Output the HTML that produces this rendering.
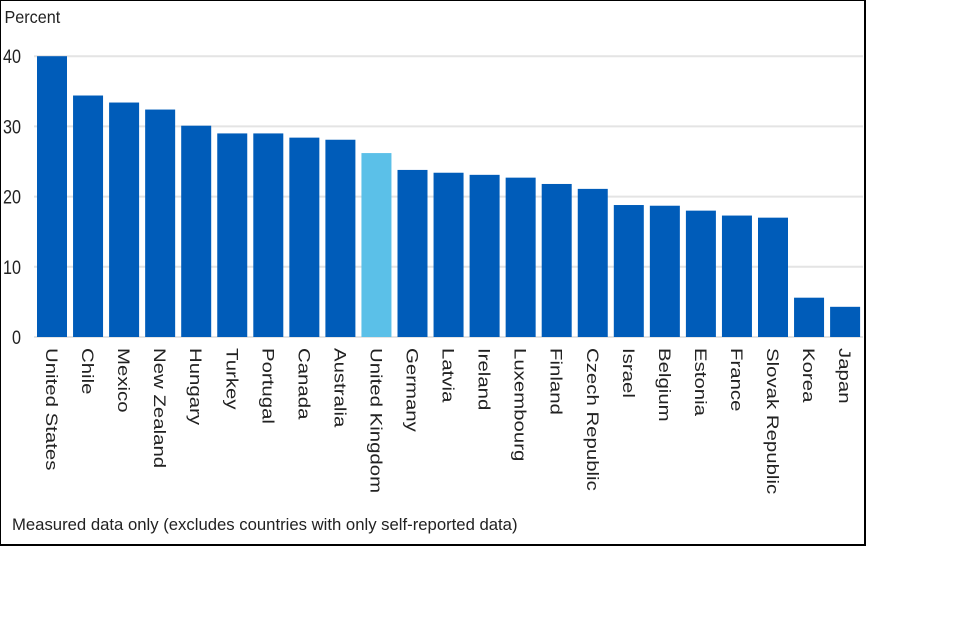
<!DOCTYPE html>
<html><head><meta charset="utf-8"><style>
body{margin:0;width:960px;height:640px;background:#fff;font-family:"Liberation Sans",Arial,sans-serif;overflow:hidden}
#frame{position:absolute;left:0;top:0;width:863px;height:543px;border:1px solid #000;border-width:1px 2px 2px 1px}
</style></head><body>
<div id="frame"></div>
<svg id="chart" width="960" height="640" style="position:absolute;left:0;top:0">
<text x="5" y="23" font-size="18" fill="#222" transform="scale(0.9 1)">Percent</text>
<text x="12" y="530" font-size="16.7" fill="#222">Measured data only (excludes countries with only self-reported data)</text>
<g id="grid"></g><g id="bars"></g><g id="labels"></g>
</svg>
<script>
const categories=["United States","Chile","Mexico","New Zealand","Hungary","Turkey","Portugal","Canada","Australia","United Kingdom","Germany","Latvia","Ireland","Luxembourg","Finland","Czech Republic","Israel","Belgium","Estonia","France","Slovak Republic","Korea","Japan"];
const values=[40.0,34.4,33.4,32.4,30.1,29.0,29.0,28.4,28.1,26.2,23.8,23.4,23.1,22.7,21.8,21.1,18.8,18.7,18.0,17.3,17.0,5.6,4.3];
const highlight=["United Kingdom"];
const yTicks=[0,10,20,30,40];
const NS="http://www.w3.org/2000/svg";
const y0=337,pxPer=7.02,x0=37,pitch=36.05,bw=30;
const y=v=>y0-v*pxPer;
const x=i=>x0+i*pitch;
const grid=document.getElementById('grid'),bars=document.getElementById('bars'),labels=document.getElementById('labels');
yTicks.forEach(t=>{
  const l=document.createElementNS(NS,'line');
  l.setAttribute('x1',34);l.setAttribute('x2',863);l.setAttribute('y1',y(t));l.setAttribute('y2',y(t));
  l.setAttribute('stroke','#e4e4e4');l.setAttribute('stroke-width',2);
  
  
  grid.appendChild(l);
  const tx=document.createElementNS(NS,'text');
  tx.setAttribute('x',21/0.85);tx.setAttribute('y',y(t)+7);tx.setAttribute('font-size',19);tx.setAttribute('fill','#222');
  tx.setAttribute('text-anchor','end');tx.setAttribute('transform','scale(0.85 1)');
  tx.textContent=t;
  
  
  grid.appendChild(tx);
});
categories.forEach((c,i)=>{
  const r=document.createElementNS(NS,'rect');
  r.setAttribute('x',x(i));r.setAttribute('y',y(values[i]));r.setAttribute('width',bw);r.setAttribute('height',y0-y(values[i]));
  r.setAttribute('fill',highlight.includes(c)?'#5bc0e8':'#005cb9');
  
  
  bars.appendChild(r);
  const t=document.createElementNS(NS,'text');
  const cx=x(i)+bw/2-6;
  t.setAttribute('x',0);t.setAttribute('y',0);t.setAttribute('font-size',17);t.setAttribute('fill','#222');
  t.setAttribute('transform','translate('+cx+' 348) rotate(90) scale(1.2 1)');
  t.textContent=c;
  
  
  labels.appendChild(t);
});
</script>
</body></html>
